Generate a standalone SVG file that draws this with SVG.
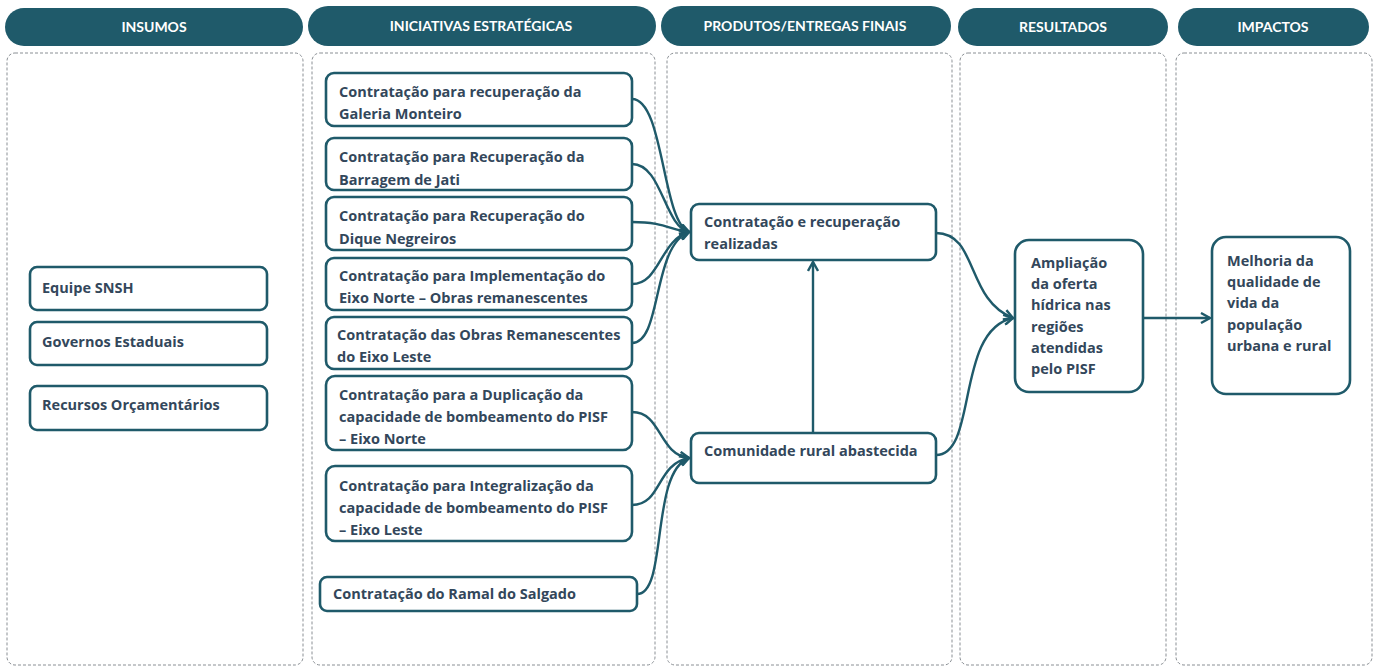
<svg xmlns="http://www.w3.org/2000/svg" width="1375" height="668" viewBox="0 0 1375 668">
<style>
.hdr{fill:#1f5a6a}
.ht{fill:#fff;font-family:Lato,"Open Sans",sans-serif;font-weight:bold;font-size:14px;text-anchor:middle}
.col{fill:none;stroke:#8a8f94;stroke-width:1;stroke-dasharray:3,2}
.box{fill:#fff;stroke:#1f5a6a;stroke-width:2.6}
.t{fill:#33475b;font-family:"Open Sans",Lato,sans-serif;font-weight:bold;font-size:14.5px}
.c{fill:none;stroke:#1f5a6a;stroke-width:2.4}
</style>
<defs>
<marker id="ah" viewBox="0 0 12 12" refX="10" refY="6" markerWidth="12" markerHeight="12" markerUnits="userSpaceOnUse" orient="auto">
<path d="M1,1 L10,6 L1,11" fill="none" stroke="#1f5a6a" stroke-width="2.4"/>
</marker>
</defs>
<rect width="1375" height="668" fill="#fff"/>
<g id="headers">
<rect class="hdr" x="5" y="8" width="298" height="38" rx="19"/>
<text class="ht" x="154" y="32">INSUMOS</text>
<rect class="hdr" x="308" y="6" width="348" height="40" rx="20"/>
<text class="ht" x="481" y="31">INICIATIVAS ESTRATÉGICAS</text>
<rect class="hdr" x="661" y="6" width="290" height="40" rx="20"/>
<text class="ht" x="805" y="31">PRODUTOS/ENTREGAS FINAIS</text>
<rect class="hdr" x="958" y="8" width="210" height="38" rx="19"/>
<text class="ht" x="1063" y="32">RESULTADOS</text>
<rect class="hdr" x="1178" y="8" width="191" height="38" rx="19"/>
<text class="ht" x="1273" y="32">IMPACTOS</text>
</g>
<g id="columns">
<rect class="col" x="7" y="53" width="296" height="612" rx="8"/>
<rect class="col" x="312" y="53" width="343" height="612" rx="8"/>
<rect class="col" x="667" y="53" width="285" height="612" rx="8"/>
<rect class="col" x="960" y="53" width="206" height="612" rx="8"/>
<rect class="col" x="1176" y="53" width="196" height="612" rx="8"/>
</g>
<g id="n-equipe"><rect class="box" x="30" y="267" width="237" height="43" rx="7"/><text class="t" x="42" y="293">Equipe SNSH</text></g>
<g id="n-governos"><rect class="box" x="30" y="322" width="237" height="43" rx="7"/><text class="t" x="42" y="347">Governos Estaduais</text></g>
<g id="n-recursos"><rect class="box" x="30" y="386" width="237" height="44" rx="7"/><text class="t" x="42" y="410">Recursos Orçamentários</text></g>

<g id="n-i1"><rect class="box" x="326" y="73" width="306" height="53" rx="8"/><text class="t" x="339" y="97">Contratação para recuperação da</text><text class="t" x="339" y="119">Galeria Monteiro</text></g>
<g id="n-i2"><rect class="box" x="326" y="138" width="306" height="52" rx="8"/><text class="t" x="339" y="162">Contratação para Recuperação da</text><text class="t" x="339" y="185">Barragem de Jati</text></g>
<g id="n-i3"><rect class="box" x="326" y="197" width="306" height="53" rx="8"/><text class="t" x="339" y="221">Contratação para Recuperação do</text><text class="t" x="339" y="244">Dique Negreiros</text></g>
<g id="n-i4"><rect class="box" x="326" y="258" width="306" height="52" rx="8"/><text class="t" x="339" y="281">Contratação para Implementação do</text><text class="t" x="339" y="303">Eixo Norte – Obras remanescentes</text></g>
<g id="n-i5"><rect class="box" x="326" y="317" width="306" height="52" rx="8"/><text class="t" x="337" y="340">Contratação das Obras Remanescentes</text><text class="t" x="337" y="362">do Eixo Leste</text></g>
<g id="n-i6"><rect class="box" x="326" y="376" width="306" height="74" rx="9"/><text class="t" x="339" y="400">Contratação para a Duplicação da</text><text class="t" x="339" y="422">capacidade de bombeamento do PISF</text><text class="t" x="339" y="444">– Eixo Norte</text></g>
<g id="n-i7"><rect class="box" x="326" y="466" width="306" height="75" rx="9"/><text class="t" x="339" y="491">Contratação para Integralização da</text><text class="t" x="339" y="513">capacidade de bombeamento do PISF</text><text class="t" x="339" y="535">– Eixo Leste</text></g>
<g id="n-i8"><rect class="box" x="320" y="577" width="317" height="34" rx="7"/><text class="t" x="333" y="599">Contratação do Ramal do Salgado</text></g>

<g id="n-p1"><rect class="box" x="691" y="204" width="245" height="56" rx="8"/><text class="t" x="704" y="227">Contratação e recuperação</text><text class="t" x="704" y="249">realizadas</text></g>
<g id="n-p2"><rect class="box" x="691" y="433" width="245" height="50" rx="8"/><text class="t" x="704" y="456">Comunidade rural abastecida</text></g>

<g id="n-r1"><rect class="box" x="1015" y="240" width="128" height="152" rx="14"/>
<text class="t" x="1031" y="268">Ampliação</text><text class="t" x="1031" y="289">da oferta</text><text class="t" x="1031" y="310">hídrica nas</text><text class="t" x="1031" y="332">regiões</text><text class="t" x="1031" y="353">atendidas</text><text class="t" x="1031" y="374">pelo PISF</text></g>
<g id="n-m1"><rect class="box" x="1212" y="237" width="138" height="157" rx="14"/>
<text class="t" x="1227" y="266">Melhoria da</text><text class="t" x="1227" y="287">qualidade de</text><text class="t" x="1227" y="308">vida da</text><text class="t" x="1227" y="330">população</text><text class="t" x="1227" y="351">urbana e rural</text></g>

<g id="connectors">
<path class="c" d="M632,99 C664,99 662,222 689,232" marker-end="url(#ah)"/>
<path class="c" d="M632,164 C662,164 664,226 689,232" marker-end="url(#ah)"/>
<path class="c" d="M632,222 C665,222 670,230 689,232" marker-end="url(#ah)"/>
<path class="c" d="M632,284 C660,284 660,240 689,232" marker-end="url(#ah)"/>
<path class="c" d="M632,343 C662,343 652,246 689,232" marker-end="url(#ah)"/>
<path class="c" d="M632,412 C662,412 658,454 689,458" marker-end="url(#ah)"/>
<path class="c" d="M632,505 C662,505 656,464 689,458" marker-end="url(#ah)"/>
<path class="c" d="M637,594 C668,594 650,472 689,458" marker-end="url(#ah)"/>
<path class="c" d="M813,433 L813,262" marker-end="url(#ah)"/>
<path class="c" d="M936,233 C978,233 966,300 1013,318" marker-end="url(#ah)"/>
<path class="c" d="M936,455 C978,455 955,330 1013,318" marker-end="url(#ah)"/>
<path class="c" d="M1143,318 L1210,318" marker-end="url(#ah)"/>
</g>
</svg>
